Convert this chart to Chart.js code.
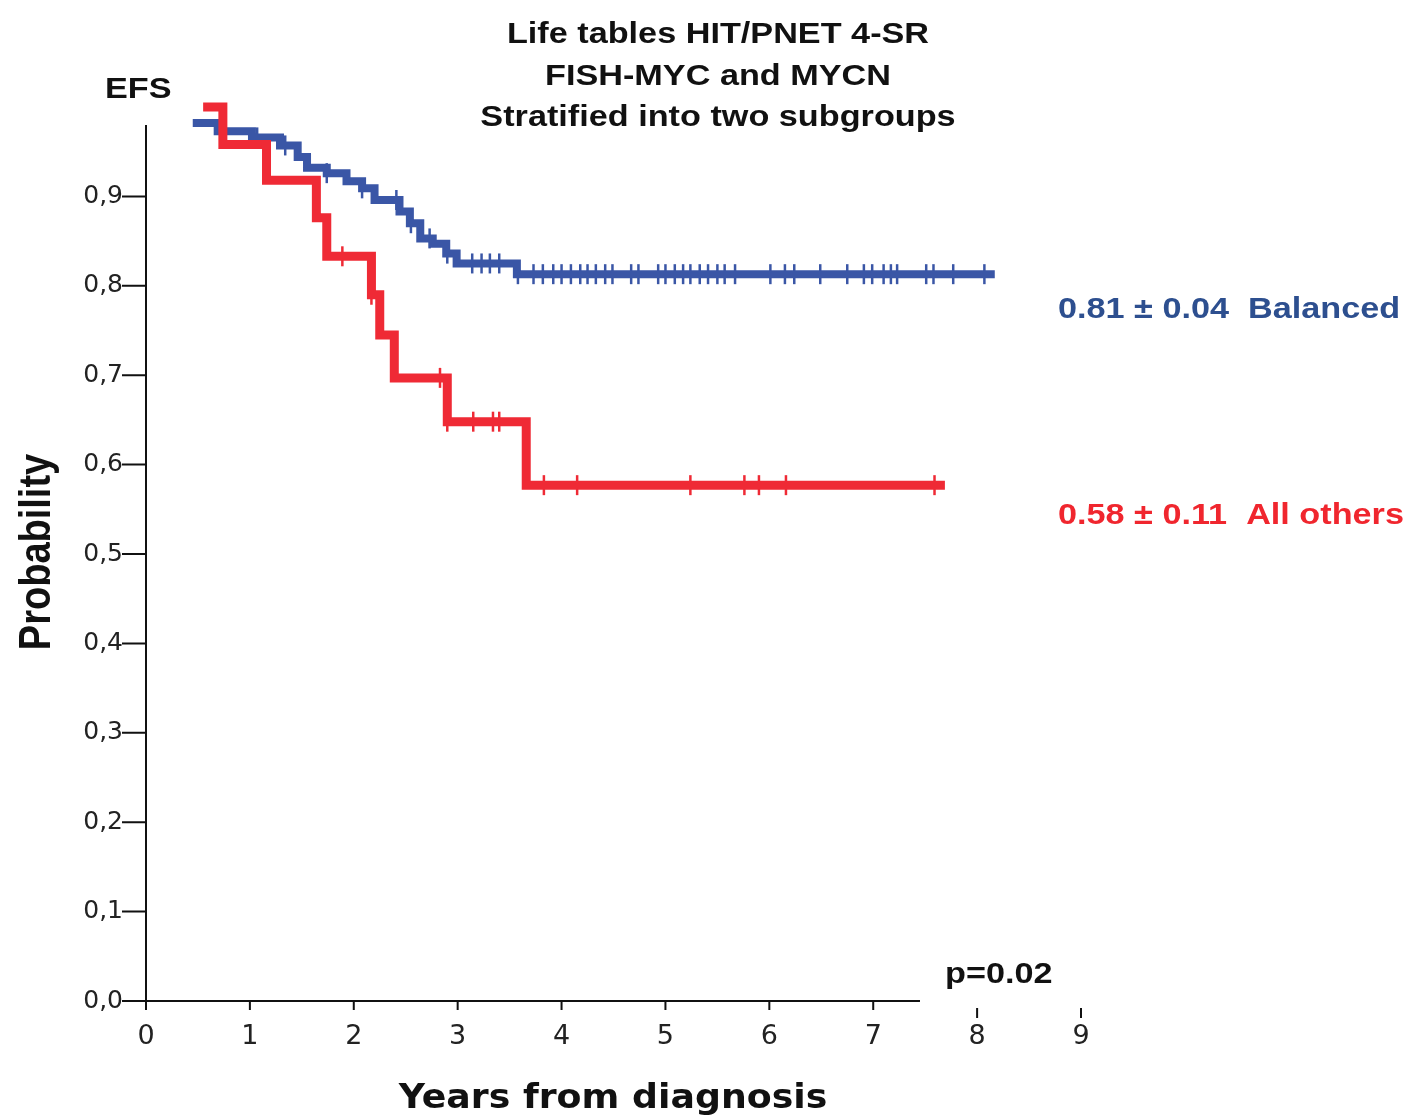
<!DOCTYPE html>
<html>
<head>
<meta charset="utf-8">
<script src="https://cdn.jsdelivr.net/npm/chart.js@4.4.1/dist/chart.umd.min.js"></script>
<style>
  html, body { margin: 0; padding: 0; background: #fff; }
</style>
</head>
<body>
<canvas id="km" width="1412" height="1120"></canvas>
<script>
// Kaplan-Meier steps: time of each step (years) and survival after it
var redTimes  = [0.55, 0.74, 1.16, 1.64, 1.74, 2.17, 2.25, 2.39, 2.90, 3.66, 7.69];
var redValues = [1.0, 0.958, 0.918, 0.876, 0.833, 0.790, 0.745, 0.697, 0.648, 0.577, 0.577];
var redCensored = [1.89, 2.17, 2.83, 2.90, 3.15, 3.34, 3.40, 3.83, 4.15, 5.24, 5.76, 5.90, 6.16, 7.59];

var blueTimes  = [0.45, 0.69, 1.02, 1.29, 1.46, 1.55, 1.74, 1.93, 2.08, 2.20, 2.44, 2.54, 2.64, 2.76, 2.89, 2.99, 3.57, 8.17];
var blueValues = [0.982, 0.973, 0.966, 0.957, 0.944, 0.932, 0.926, 0.917, 0.909, 0.896, 0.883, 0.870, 0.853, 0.847, 0.836, 0.825, 0.813, 0.813];
var blueCensored = [1.07, 1.34, 1.74, 2.08, 2.41, 2.55, 2.73, 2.90, 3.14, 3.23, 3.31, 3.40,
    3.58, 3.73, 3.82, 3.92, 4.00, 4.09, 4.18, 4.25, 4.33, 4.42, 4.49, 4.67, 4.74, 4.93, 5.00,
    5.09, 5.17, 5.24, 5.33, 5.41, 5.50, 5.57, 5.67, 6.01, 6.15, 6.24, 6.49, 6.75, 6.91, 6.99,
    7.10, 7.17, 7.23, 7.51, 7.58, 7.77, 8.07];

var xTickValues = [0, 1, 2, 3, 4, 5, 6, 7, 8, 9];
var yTickValues = [0, 0.1, 0.2, 0.3, 0.4, 0.5, 0.6, 0.7, 0.8, 0.9];

var titleLines = ['Life tables HIT/PNET 4-SR', 'FISH-MYC and MYCN', 'Stratified into two subgroups'];
var redLabel = '0.58 \u00b1 0.11  All others';
var blueLabel = '0.81 \u00b1 0.04  Balanced';

var RED = '#ef2a35';
var BLUE = '#3a56a6';

function stepPoints(times, values) {
    return times.map(function(t, i) { return { x: t, y: values[i] }; });
}

// survival level at time t (value of the last step at or before t)
function levelAt(times, values, t) {
    var v = values[0];
    for (var i = 0; i < times.length; i++) {
        if (times[i] <= t + 1e-9) v = values[i];
    }
    return v;
}

function censorPoints(list, times, values) {
    return list.map(function(t) { return { x: t, y: levelAt(times, values, t) }; });
}

// the picture is stretched sideways, so text is drawn a bit wider
function stretchedText(ctx, text, x, y, font, color, align, sx, angle) {
    ctx.save();
    ctx.font = font;
    ctx.fillStyle = color;
    ctx.textAlign = align;
    ctx.textBaseline = 'alphabetic';
    ctx.translate(x, y);
    if (angle) {
        ctx.rotate(angle);
        ctx.scale(1, sx);
    } else {
        ctx.scale(sx, 1);
    }
    ctx.fillText(text, 0, 0);
    ctx.restore();
}

var axesPlugin = {
    id: 'kmAxes',
    beforeDatasetsDraw: function(chart) {
        var ctx = chart.ctx;
        var xs = chart.scales.x, ys = chart.scales.y;
        var x0 = xs.getPixelForValue(0);
        var yb = ys.getPixelForValue(0);
        ctx.save();
        ctx.strokeStyle = '#111';
        ctx.lineWidth = 2;
        ctx.beginPath();
        ctx.moveTo(x0, yb);
        ctx.lineTo(x0, ys.getPixelForValue(0.98));
        ctx.moveTo(x0 - 1, yb);
        ctx.lineTo(xs.getPixelForValue(7.45), yb);
        yTickValues.forEach(function(v) {
            var p = ys.getPixelForValue(v);
            ctx.moveTo(x0 - 24, p);
            ctx.lineTo(x0, p);
        });
        xTickValues.forEach(function(v) {
            var p = xs.getPixelForValue(v);
            if (v <= 7) {
                ctx.moveTo(p, yb);
                ctx.lineTo(p, yb + 9);
            } else {
                ctx.moveTo(p, yb + 7);
                ctx.lineTo(p, yb + 17);
            }
        });
        ctx.stroke();
        ctx.restore();
    },
    afterDraw: function(chart) {
        var ctx = chart.ctx;
        var s = 1.18;
        var titleFont = 'bold 29px "Liberation Sans", Arial, sans-serif';
        stretchedText(ctx, titleLines[0], 718, 43, titleFont, '#111', 'center', s);
        stretchedText(ctx, titleLines[1], 718, 85, titleFont, '#111', 'center', s);
        stretchedText(ctx, titleLines[2], 718, 126, titleFont, '#111', 'center', s);
        stretchedText(ctx, 'EFS', 105, 98, titleFont, '#111', 'left', s);
        stretchedText(ctx, 'p=0.02', 945, 983, 'bold 29px "Liberation Sans", Arial, sans-serif', '#111', 'left', s);
        stretchedText(ctx, blueLabel, 1058, 318, titleFont, '#2d4f8f', 'left', s);
        stretchedText(ctx, redLabel, 1058, 524, titleFont, '#f0262e', 'left', s);
        stretchedText(ctx, 'Years from diagnosis', 613, 1108, 'bold 33px "DejaVu Sans", sans-serif', '#111', 'center', 1.1);
        stretchedText(ctx, 'Probability', 50, 552, 'bold 38px "Liberation Sans", Arial, sans-serif', '#111', 'center', s, -Math.PI / 2);
    }
};

var ctx = document.getElementById('km').getContext('2d');
var chart = new Chart(ctx, {
    type: 'line',
    data: {
        datasets: [
            {
                label: 'Balanced',
                data: stepPoints(blueTimes, blueValues),
                borderColor: BLUE,
                borderWidth: 8,
                stepped: 'before',
                pointRadius: 0,
                fill: false,
                order: 2
            },
            {
                label: 'All others',
                data: stepPoints(redTimes, redValues),
                borderColor: RED,
                borderWidth: 9,
                stepped: 'before',
                pointRadius: 0,
                fill: false,
                order: 1
            },
            {
                label: 'Balanced censored',
                data: censorPoints(blueCensored, blueTimes, blueValues),
                showLine: false,
                pointStyle: 'line',
                rotation: 90,
                pointRadius: 10,
                pointBorderWidth: 2.5,
                borderColor: BLUE,
                order: 2
            },
            {
                label: 'All others censored',
                data: censorPoints(redCensored, redTimes, redValues),
                showLine: false,
                pointStyle: 'line',
                rotation: 90,
                pointRadius: 10,
                pointBorderWidth: 2.5,
                borderColor: RED,
                order: 1
            }
        ]
    },
    options: {
        responsive: false,
        animation: false,
        clip: false,
        layout: {
            padding: { top: 107, right: 331, left: 0, bottom: 0 }
        },
        plugins: {
            legend: { display: false },
            tooltip: { enabled: false },
            title: { display: false }
        },
        scales: {
            x: {
                type: 'linear',
                min: 0,
                max: 9,
                grid: { display: false, drawTicks: false },
                border: { display: false },
                afterFit: function(scale) { scale.height = 119; },
                ticks: {
                    stepSize: 1,
                    padding: 20,
                    color: '#222',
                    font: { family: '"DejaVu Sans", sans-serif', size: 27 }
                }
            },
            y: {
                type: 'linear',
                min: 0,
                max: 1,
                grid: { display: false, drawTicks: false },
                border: { display: false },
                afterFit: function(scale) { scale.width = 146; },
                ticks: {
                    stepSize: 0.1,
                    padding: 23,
                    color: '#222',
                    font: { family: '"DejaVu Sans", sans-serif', size: 25 },
                    callback: function(v) {
                        return v > 0.95 ? '' : v.toFixed(1).replace('.', ',');
                    }
                }
            }
        }
    },
    plugins: [axesPlugin]
});
</script>
</body>
</html>
